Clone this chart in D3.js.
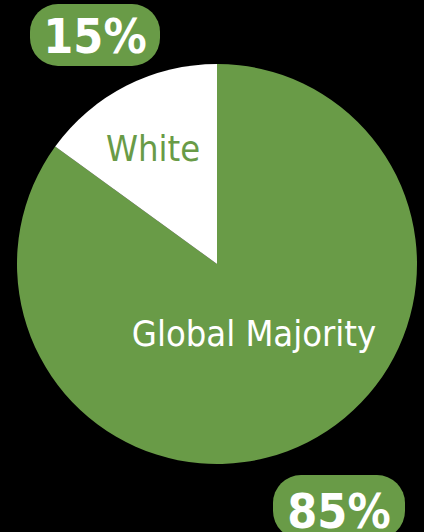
<!DOCTYPE html>
<html><head><meta charset="utf-8">
<script src="https://cdn.jsdelivr.net/npm/d3@7"></script>
<style>html,body{margin:0;padding:0;background:#000;}svg{display:block;}</style>
</head><body>
<script>
const categories = ["Global Majority", "White"];
const values = [85, 15];
const pctLabels = ["85%", "15%"];
const colors = ["#699b47", "#ffffff"];
const textColors = ["#ffffff", "#699b47"];

const W = 424, H = 532, cx = 217, cy = 264, R = 200;
const svg = d3.select("body").append("svg").attr("width", W).attr("height", H);
svg.append("rect").attr("width", W).attr("height", H).attr("fill", "#000");

const data = categories.map((c, i) => ({c, v: values[i], p: pctLabels[i], i}));
const pie = d3.pie().value(d => d.v).sort(null);
const arcs = pie(data);
const arc = d3.arc().innerRadius(0).outerRadius(R);
const g = svg.append("g").attr("transform", `translate(${cx},${cy})`);
g.selectAll("path").data(arcs).join("path").attr("d", arc).attr("fill", d => colors[d.data.i]);

// inner category labels
const catPos = [[254, 346], [153, 161]];
svg.selectAll("text.cat").data(data).join("text").attr("class", "cat")
  .attr("x", d => catPos[d.i][0]).attr("y", d => catPos[d.i][1])
  .attr("text-anchor", "middle")
  .attr("font-family", "'DejaVu Sans Condensed','DejaVu Sans',sans-serif")
  .attr("font-size", 36).attr("fill", d => textColors[d.i])
  .text(d => d.c);

// percentage badges
const badge = [{x: 273, y: 475, w: 132, h: 64, tx: 339, ty: 528}, {x: 30, y: 4, w: 130, h: 62, tx: 95, ty: 53}];
const bg = svg.selectAll("g.badge").data(data).join("g").attr("class", "badge");
bg.append("rect").attr("x", d => badge[d.i].x).attr("y", d => badge[d.i].y)
  .attr("width", d => badge[d.i].w).attr("height", d => badge[d.i].h)
  .attr("rx", 28).attr("fill", colors[0]);
bg.append("text").attr("x", d => badge[d.i].tx).attr("y", d => badge[d.i].ty)
  .attr("text-anchor", "middle")
  .attr("font-family", "'DejaVu Sans Condensed','DejaVu Sans',sans-serif")
  .attr("font-weight", "bold").attr("font-size", 48).attr("fill", "#fff")
  .text(d => d.p);
</script>
</body></html>
